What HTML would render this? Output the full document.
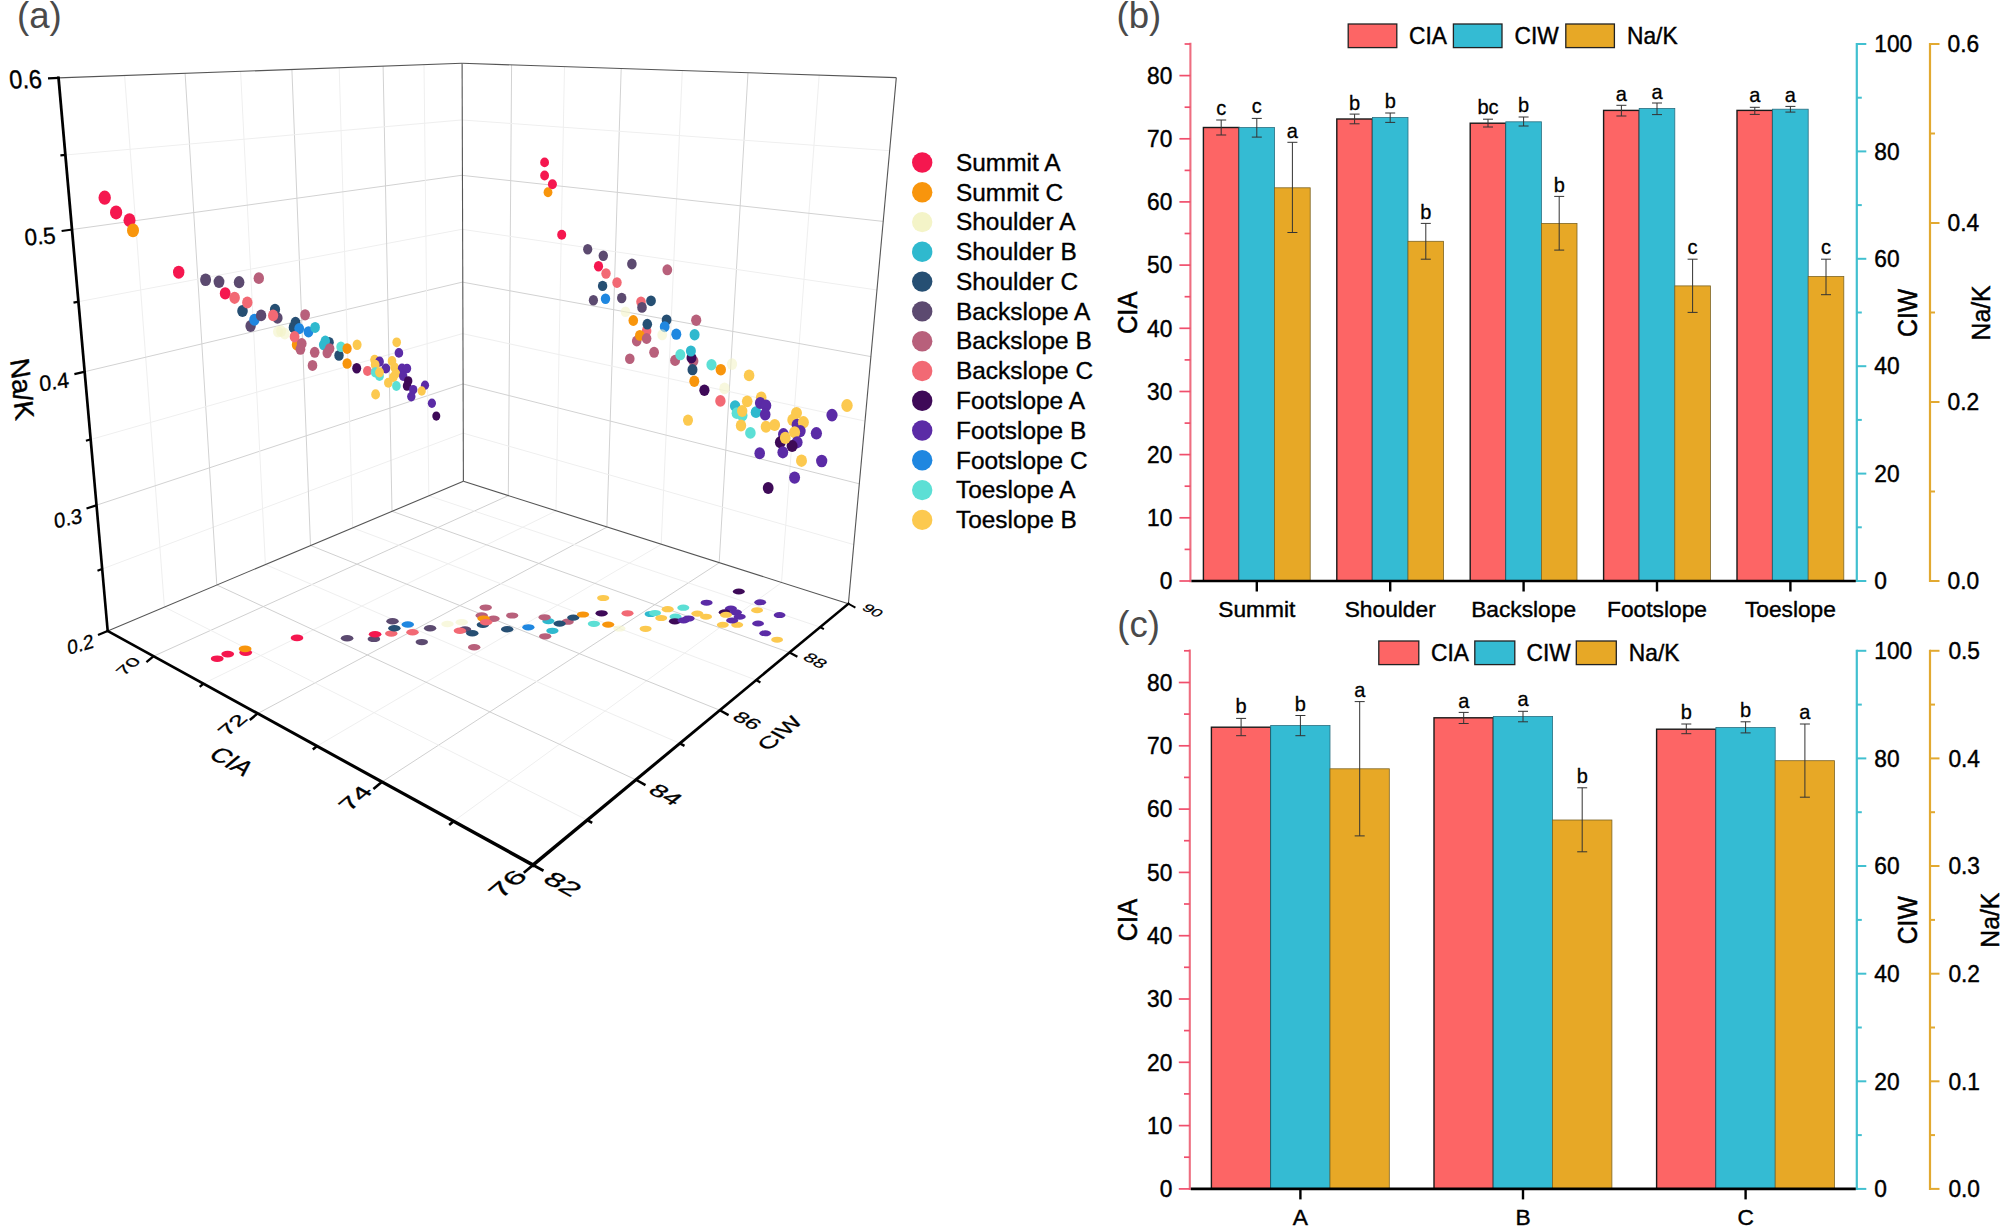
<!DOCTYPE html>
<html lang="en"><head><meta charset="utf-8"><title>Figure</title>
<style>
html,body{margin:0;padding:0;background:#fff;}
body{width:2006px;height:1230px;overflow:hidden;}
svg{display:block;}
</style></head>
<body>
<svg width="2006" height="1230" viewBox="0 0 2006 1230">
<rect width="2006" height="1230" fill="#fff"/>
<g fill="none">
<line x1="164.4" y1="607.1" x2="124.6" y2="75.5" stroke="#efefef" stroke-width="1" />
<line x1="102.2" y1="569.0" x2="463.3" y2="433.1" stroke="#efefef" stroke-width="1" />
<line x1="216.8" y1="585.0" x2="185.1" y2="73.3" stroke="#d2d2d2" stroke-width="1" />
<line x1="96.5" y1="505.2" x2="463.1" y2="383.9" stroke="#d2d2d2" stroke-width="1" />
<line x1="265.4" y1="564.6" x2="240.6" y2="71.3" stroke="#efefef" stroke-width="1" />
<line x1="90.7" y1="439.5" x2="462.9" y2="333.5" stroke="#efefef" stroke-width="1" />
<line x1="310.5" y1="545.6" x2="291.9" y2="69.5" stroke="#d2d2d2" stroke-width="1" />
<line x1="84.6" y1="371.7" x2="462.8" y2="282.0" stroke="#d2d2d2" stroke-width="1" />
<line x1="352.7" y1="527.9" x2="339.2" y2="67.7" stroke="#efefef" stroke-width="1" />
<line x1="78.4" y1="301.7" x2="462.6" y2="229.2" stroke="#efefef" stroke-width="1" />
<line x1="392.0" y1="511.3" x2="383.1" y2="66.2" stroke="#d2d2d2" stroke-width="1" />
<line x1="72.0" y1="229.5" x2="462.4" y2="175.2" stroke="#d2d2d2" stroke-width="1" />
<line x1="428.8" y1="495.8" x2="424.0" y2="64.7" stroke="#efefef" stroke-width="1" />
<line x1="65.4" y1="155.0" x2="462.3" y2="119.9" stroke="#efefef" stroke-width="1" />
<line x1="508.3" y1="495.6" x2="511.6" y2="64.9" stroke="#d2d2d2" stroke-width="1" />
<line x1="556.0" y1="510.7" x2="564.5" y2="66.7" stroke="#efefef" stroke-width="1" />
<line x1="606.9" y1="526.9" x2="621.2" y2="68.5" stroke="#d2d2d2" stroke-width="1" />
<line x1="661.2" y1="544.2" x2="682.3" y2="70.6" stroke="#efefef" stroke-width="1" />
<line x1="719.2" y1="562.6" x2="748.0" y2="72.7" stroke="#d2d2d2" stroke-width="1" />
<line x1="781.5" y1="582.4" x2="819.2" y2="75.1" stroke="#efefef" stroke-width="1" />
<line x1="463.3" y1="433.2" x2="853.8" y2="544.6" stroke="#efefef" stroke-width="1" />
<line x1="463.1" y1="384.0" x2="859.3" y2="483.8" stroke="#d2d2d2" stroke-width="1" />
<line x1="462.9" y1="333.7" x2="865.0" y2="421.1" stroke="#efefef" stroke-width="1" />
<line x1="462.8" y1="282.2" x2="870.9" y2="356.6" stroke="#d2d2d2" stroke-width="1" />
<line x1="462.6" y1="229.4" x2="877.0" y2="290.0" stroke="#efefef" stroke-width="1" />
<line x1="462.4" y1="175.4" x2="883.2" y2="221.4" stroke="#d2d2d2" stroke-width="1" />
<line x1="462.3" y1="120.0" x2="889.6" y2="150.7" stroke="#efefef" stroke-width="1" />
<line x1="153.6" y1="656.2" x2="508.4" y2="495.6" stroke="#d0d0d0" stroke-width="1" />
<line x1="203.5" y1="683.6" x2="556.2" y2="510.8" stroke="#efefef" stroke-width="1" />
<line x1="257.7" y1="713.5" x2="607.1" y2="527.0" stroke="#d0d0d0" stroke-width="1" />
<line x1="317.0" y1="746.1" x2="661.4" y2="544.3" stroke="#efefef" stroke-width="1" />
<line x1="382.0" y1="781.9" x2="719.4" y2="562.7" stroke="#d0d0d0" stroke-width="1" />
<line x1="453.6" y1="821.3" x2="781.6" y2="582.5" stroke="#efefef" stroke-width="1" />
<line x1="164.4" y1="607.0" x2="587.2" y2="820.1" stroke="#efefef" stroke-width="1" />
<line x1="216.9" y1="585.0" x2="635.9" y2="779.8" stroke="#d0d0d0" stroke-width="1" />
<line x1="265.5" y1="564.5" x2="679.9" y2="743.3" stroke="#efefef" stroke-width="1" />
<line x1="310.7" y1="545.5" x2="719.8" y2="710.2" stroke="#d0d0d0" stroke-width="1" />
<line x1="352.7" y1="527.8" x2="756.2" y2="680.1" stroke="#efefef" stroke-width="1" />
<line x1="392.1" y1="511.3" x2="789.5" y2="652.5" stroke="#d0d0d0" stroke-width="1" />
<line x1="428.9" y1="495.8" x2="820.2" y2="627.1" stroke="#efefef" stroke-width="1" />
<line x1="58.5" y1="77.9" x2="462.1" y2="63.3" stroke="#555" stroke-width="1.1" />
<line x1="462.1" y1="63.3" x2="896.3" y2="77.6" stroke="#555" stroke-width="1.1" />
<line x1="463.4" y1="481.3" x2="462.1" y2="63.3" stroke="#555" stroke-width="1.1" />
<line x1="848.4" y1="603.7" x2="896.3" y2="77.6" stroke="#555" stroke-width="1.1" />
<line x1="107.7" y1="630.9" x2="463.4" y2="481.3" stroke="#555" stroke-width="1.1" />
<line x1="463.4" y1="481.3" x2="848.4" y2="603.7" stroke="#555" stroke-width="1.1" />
</g>
<g>
<ellipse cx="217.2" cy="658.7" rx="6.4" ry="3.3" fill="#F5174F"/>
<ellipse cx="227.7" cy="654.1" rx="6.4" ry="3.3" fill="#F5174F"/>
<ellipse cx="245.7" cy="652.6" rx="6.4" ry="3.3" fill="#F5174F"/>
<ellipse cx="245.1" cy="648.9" rx="6.4" ry="3.3" fill="#F8950C"/>
<ellipse cx="297.0" cy="637.9" rx="6.3" ry="3.3" fill="#F5174F"/>
<ellipse cx="347.1" cy="638.2" rx="6.3" ry="3.2" fill="#5C4A70"/>
<ellipse cx="373.9" cy="638.9" rx="6.3" ry="3.2" fill="#5C4A70"/>
<ellipse cx="375.1" cy="634.2" rx="6.3" ry="3.2" fill="#F5174F"/>
<ellipse cx="392.5" cy="621.3" rx="6.2" ry="3.2" fill="#5C4A70"/>
<ellipse cx="391.3" cy="633.6" rx="6.2" ry="3.2" fill="#F26974"/>
<ellipse cx="394.4" cy="628.2" rx="6.2" ry="3.2" fill="#264F73"/>
<ellipse cx="407.8" cy="624.5" rx="6.2" ry="3.2" fill="#1F87E0"/>
<ellipse cx="412.5" cy="632.3" rx="6.2" ry="3.2" fill="#F26974"/>
<ellipse cx="430.1" cy="628.2" rx="6.2" ry="3.2" fill="#5C4A70"/>
<ellipse cx="421.8" cy="642.1" rx="6.2" ry="3.2" fill="#5C4A70"/>
<ellipse cx="447.5" cy="624.0" rx="6.2" ry="3.2" fill="#F4F4C8" fill-opacity="0.6"/>
<ellipse cx="461.7" cy="622.3" rx="6.2" ry="3.2" fill="#F4F4C8" fill-opacity="0.6"/>
<ellipse cx="485.7" cy="607.6" rx="6.2" ry="3.2" fill="#B8607B"/>
<ellipse cx="481.7" cy="615.5" rx="6.2" ry="3.2" fill="#B8607B"/>
<ellipse cx="493.5" cy="618.8" rx="6.2" ry="3.2" fill="#B8607B"/>
<ellipse cx="482.9" cy="624.8" rx="6.2" ry="3.2" fill="#264F73"/>
<ellipse cx="483.6" cy="618.6" rx="6.2" ry="3.2" fill="#F8950C"/>
<ellipse cx="486.0" cy="622.3" rx="6.2" ry="3.2" fill="#F26974"/>
<ellipse cx="465.0" cy="629.4" rx="6.2" ry="3.2" fill="#5C4A70"/>
<ellipse cx="459.9" cy="630.8" rx="6.2" ry="3.2" fill="#F26974"/>
<ellipse cx="472.3" cy="633.3" rx="6.2" ry="3.2" fill="#264F73"/>
<ellipse cx="474.2" cy="647.2" rx="6.2" ry="3.2" fill="#B8607B"/>
<ellipse cx="512.2" cy="615.5" rx="6.1" ry="3.1" fill="#B8607B"/>
<ellipse cx="507.2" cy="629.2" rx="6.2" ry="3.2" fill="#264F73"/>
<ellipse cx="528.4" cy="627.3" rx="6.1" ry="3.1" fill="#1F87E0"/>
<ellipse cx="548.4" cy="621.1" rx="6.1" ry="3.1" fill="#2FB9CE"/>
<ellipse cx="544.6" cy="617.3" rx="6.1" ry="3.1" fill="#B8607B"/>
<ellipse cx="567.7" cy="621.7" rx="6.1" ry="3.1" fill="#B8607B"/>
<ellipse cx="559.6" cy="623.6" rx="6.1" ry="3.1" fill="#264F73"/>
<ellipse cx="573.3" cy="617.6" rx="6.1" ry="3.1" fill="#264F73"/>
<ellipse cx="552.4" cy="630.8" rx="6.1" ry="3.1" fill="#2FB9CE"/>
<ellipse cx="545.2" cy="636.3" rx="6.1" ry="3.1" fill="#B8607B"/>
<ellipse cx="583.0" cy="614.5" rx="6.1" ry="3.1" fill="#F8950C"/>
<ellipse cx="601.6" cy="613.3" rx="6.1" ry="3.1" fill="#3E0A58"/>
<ellipse cx="603.2" cy="598.0" rx="6.1" ry="3.1" fill="#FCC94F"/>
<ellipse cx="593.9" cy="623.8" rx="6.1" ry="3.1" fill="#5CDFD5"/>
<ellipse cx="608.2" cy="624.6" rx="6.1" ry="3.1" fill="#F8950C"/>
<ellipse cx="619.4" cy="628.5" rx="6.1" ry="3.1" fill="#F4F4C8" fill-opacity="0.6"/>
<ellipse cx="627.5" cy="613.3" rx="6.0" ry="3.1" fill="#F26974"/>
<ellipse cx="645.6" cy="628.8" rx="6.0" ry="3.1" fill="#FCC94F"/>
<ellipse cx="650.6" cy="614.0" rx="6.0" ry="3.1" fill="#2FB9CE"/>
<ellipse cx="655.0" cy="613.0" rx="6.0" ry="3.1" fill="#5CDFD5"/>
<ellipse cx="661.2" cy="618.0" rx="6.0" ry="3.1" fill="#FCC94F"/>
<ellipse cx="667.7" cy="609.2" rx="6.0" ry="3.1" fill="#FCC94F"/>
<ellipse cx="683.3" cy="607.7" rx="6.0" ry="3.1" fill="#5CDFD5"/>
<ellipse cx="675.5" cy="616.7" rx="6.0" ry="3.1" fill="#5CDFD5"/>
<ellipse cx="674.9" cy="621.3" rx="6.0" ry="3.1" fill="#3E0A58"/>
<ellipse cx="683.6" cy="620.4" rx="6.0" ry="3.1" fill="#5B2BA6"/>
<ellipse cx="688.6" cy="618.5" rx="6.0" ry="3.1" fill="#5B2BA6"/>
<ellipse cx="697.3" cy="613.6" rx="6.0" ry="3.1" fill="#FCC94F"/>
<ellipse cx="706.0" cy="616.7" rx="6.0" ry="3.0" fill="#FCC94F"/>
<ellipse cx="706.6" cy="602.7" rx="6.0" ry="3.0" fill="#5B2BA6"/>
<ellipse cx="738.8" cy="591.5" rx="6.0" ry="3.0" fill="#3E0A58"/>
<ellipse cx="722.8" cy="624.8" rx="6.0" ry="3.0" fill="#FCC94F"/>
<ellipse cx="737.2" cy="624.8" rx="6.0" ry="3.0" fill="#FCC94F"/>
<ellipse cx="730.9" cy="608.6" rx="6.0" ry="3.0" fill="#5B2BA6"/>
<ellipse cx="724.7" cy="612.3" rx="6.0" ry="3.0" fill="#3E0A58"/>
<ellipse cx="735.9" cy="612.3" rx="6.0" ry="3.0" fill="#5B2BA6"/>
<ellipse cx="726.0" cy="614.8" rx="6.0" ry="3.0" fill="#FCC94F"/>
<ellipse cx="739.7" cy="616.7" rx="6.0" ry="3.0" fill="#5B2BA6"/>
<ellipse cx="732.2" cy="620.4" rx="6.0" ry="3.0" fill="#5B2BA6"/>
<ellipse cx="760.2" cy="602.3" rx="5.9" ry="3.0" fill="#5B2BA6"/>
<ellipse cx="757.1" cy="610.2" rx="5.9" ry="3.0" fill="#FCC94F"/>
<ellipse cx="779.6" cy="615.1" rx="5.9" ry="3.0" fill="#5B2BA6"/>
<ellipse cx="758.1" cy="623.5" rx="5.9" ry="3.0" fill="#5B2BA6"/>
<ellipse cx="765.2" cy="633.3" rx="5.9" ry="3.0" fill="#5B2BA6"/>
<ellipse cx="777.1" cy="639.7" rx="5.9" ry="3.0" fill="#FCC94F"/>
<ellipse cx="104.7" cy="197.7" rx="6.2" ry="7.1" fill="#F5174F"/>
<ellipse cx="116.1" cy="212.4" rx="6.1" ry="7.0" fill="#F5174F"/>
<ellipse cx="129.5" cy="220.2" rx="6.0" ry="6.9" fill="#F5174F"/>
<ellipse cx="133.0" cy="230.4" rx="6.0" ry="6.9" fill="#F8950C"/>
<ellipse cx="178.7" cy="272.2" rx="5.7" ry="6.5" fill="#F5174F"/>
<ellipse cx="205.6" cy="279.7" rx="5.5" ry="6.3" fill="#5C4A70"/>
<ellipse cx="219.0" cy="281.8" rx="5.4" ry="6.2" fill="#5C4A70"/>
<ellipse cx="239.1" cy="282.2" rx="5.3" ry="6.1" fill="#5C4A70"/>
<ellipse cx="258.8" cy="278.2" rx="5.2" ry="5.9" fill="#B8607B"/>
<ellipse cx="225.2" cy="293.4" rx="5.4" ry="6.2" fill="#F5174F"/>
<ellipse cx="234.6" cy="297.8" rx="5.3" ry="6.1" fill="#F26974"/>
<ellipse cx="242.5" cy="311.0" rx="5.3" ry="6.1" fill="#264F73"/>
<ellipse cx="247.3" cy="302.6" rx="5.2" ry="6.0" fill="#F26974"/>
<ellipse cx="250.6" cy="326.1" rx="5.2" ry="6.0" fill="#5C4A70"/>
<ellipse cx="254.4" cy="319.8" rx="5.2" ry="6.0" fill="#1F87E0"/>
<ellipse cx="261.1" cy="315.4" rx="5.2" ry="5.9" fill="#5C4A70"/>
<ellipse cx="275.0" cy="309.5" rx="5.1" ry="5.8" fill="#264F73"/>
<ellipse cx="277.5" cy="318.0" rx="5.1" ry="5.8" fill="#5C4A70"/>
<ellipse cx="273.1" cy="315.4" rx="5.1" ry="5.8" fill="#F26974"/>
<ellipse cx="305.1" cy="314.8" rx="4.9" ry="5.6" fill="#B8607B"/>
<ellipse cx="278.0" cy="331.7" rx="5.0" ry="5.8" fill="#F4F4C8" fill-opacity="0.6"/>
<ellipse cx="281.1" cy="331.1" rx="5.0" ry="5.8" fill="#F4F4C8" fill-opacity="0.6"/>
<ellipse cx="284.8" cy="333.6" rx="5.0" ry="5.8" fill="#F4F4C8" fill-opacity="0.6"/>
<ellipse cx="293.6" cy="327.4" rx="4.9" ry="5.7" fill="#264F73"/>
<ellipse cx="295.5" cy="322.5" rx="4.9" ry="5.7" fill="#264F73"/>
<ellipse cx="299.2" cy="328.6" rx="4.9" ry="5.6" fill="#1F87E0"/>
<ellipse cx="308.5" cy="331.8" rx="4.9" ry="5.6" fill="#1F87E0"/>
<ellipse cx="315.1" cy="327.4" rx="4.8" ry="5.5" fill="#2FB9CE"/>
<ellipse cx="296.7" cy="344.8" rx="4.9" ry="5.7" fill="#F8950C"/>
<ellipse cx="294.6" cy="336.7" rx="4.9" ry="5.7" fill="#F26974"/>
<ellipse cx="301.7" cy="343.6" rx="4.9" ry="5.6" fill="#B8607B"/>
<ellipse cx="300.4" cy="349.2" rx="4.9" ry="5.6" fill="#B8607B"/>
<ellipse cx="314.7" cy="352.3" rx="4.8" ry="5.5" fill="#B8607B"/>
<ellipse cx="312.5" cy="365.4" rx="4.8" ry="5.5" fill="#B8607B"/>
<ellipse cx="329.1" cy="342.3" rx="4.7" ry="5.4" fill="#264F73"/>
<ellipse cx="325.3" cy="341.1" rx="4.7" ry="5.5" fill="#2FB9CE"/>
<ellipse cx="323.7" cy="344.8" rx="4.8" ry="5.5" fill="#2FB9CE"/>
<ellipse cx="329.7" cy="348.6" rx="4.7" ry="5.4" fill="#B8607B"/>
<ellipse cx="327.2" cy="352.9" rx="4.7" ry="5.4" fill="#B8607B"/>
<ellipse cx="339.0" cy="355.4" rx="4.7" ry="5.4" fill="#264F73"/>
<ellipse cx="340.9" cy="346.7" rx="4.6" ry="5.3" fill="#5CDFD5"/>
<ellipse cx="347.1" cy="348.6" rx="4.6" ry="5.3" fill="#F8950C"/>
<ellipse cx="347.1" cy="363.5" rx="4.6" ry="5.3" fill="#F8950C"/>
<ellipse cx="357.1" cy="344.8" rx="4.5" ry="5.2" fill="#FCC94F"/>
<ellipse cx="356.7" cy="368.3" rx="4.5" ry="5.2" fill="#3E0A58"/>
<ellipse cx="367.5" cy="371.0" rx="4.5" ry="5.1" fill="#F26974"/>
<ellipse cx="374.6" cy="359.8" rx="4.4" ry="5.1" fill="#FCC94F"/>
<ellipse cx="379.5" cy="361.7" rx="4.4" ry="5.1" fill="#5B2BA6"/>
<ellipse cx="375.2" cy="364.8" rx="4.4" ry="5.1" fill="#FCC94F"/>
<ellipse cx="385.8" cy="368.5" rx="4.4" ry="5.0" fill="#5B2BA6"/>
<ellipse cx="375.2" cy="372.3" rx="4.4" ry="5.1" fill="#5CDFD5"/>
<ellipse cx="379.5" cy="376.0" rx="4.4" ry="5.1" fill="#5CDFD5"/>
<ellipse cx="379.5" cy="372.3" rx="4.4" ry="5.1" fill="#FCC94F"/>
<ellipse cx="396.7" cy="342.3" rx="4.3" ry="4.9" fill="#FCC94F"/>
<ellipse cx="398.9" cy="352.9" rx="4.3" ry="4.9" fill="#5B2BA6"/>
<ellipse cx="392.0" cy="361.0" rx="4.3" ry="5.0" fill="#FCC94F"/>
<ellipse cx="394.5" cy="367.3" rx="4.3" ry="4.9" fill="#FCC94F"/>
<ellipse cx="402.0" cy="368.5" rx="4.2" ry="4.9" fill="#5B2BA6"/>
<ellipse cx="407.0" cy="368.5" rx="4.2" ry="4.8" fill="#5B2BA6"/>
<ellipse cx="395.8" cy="373.5" rx="4.3" ry="4.9" fill="#FCC94F"/>
<ellipse cx="393.3" cy="377.2" rx="4.3" ry="4.9" fill="#FCC94F"/>
<ellipse cx="388.3" cy="382.8" rx="4.3" ry="5.0" fill="#FCC94F"/>
<ellipse cx="396.4" cy="386.0" rx="4.3" ry="4.9" fill="#5CDFD5"/>
<ellipse cx="403.2" cy="376.0" rx="4.2" ry="4.9" fill="#5B2BA6"/>
<ellipse cx="408.2" cy="381.0" rx="4.2" ry="4.8" fill="#3E0A58"/>
<ellipse cx="407.0" cy="386.0" rx="4.2" ry="4.8" fill="#3E0A58"/>
<ellipse cx="413.2" cy="389.7" rx="4.2" ry="4.8" fill="#5B2BA6"/>
<ellipse cx="411.3" cy="396.6" rx="4.2" ry="4.8" fill="#5B2BA6"/>
<ellipse cx="375.6" cy="394.4" rx="4.4" ry="5.1" fill="#FCC94F"/>
<ellipse cx="425.0" cy="385.3" rx="4.1" ry="4.7" fill="#5B2BA6"/>
<ellipse cx="421.7" cy="391.0" rx="4.1" ry="4.7" fill="#FCC94F"/>
<ellipse cx="431.9" cy="403.2" rx="4.1" ry="4.7" fill="#5B2BA6"/>
<ellipse cx="436.3" cy="416.1" rx="4.0" ry="4.6" fill="#3E0A58"/>
<ellipse cx="544.6" cy="162.4" rx="4.4" ry="4.9" fill="#F5174F"/>
<ellipse cx="544.6" cy="175.5" rx="4.4" ry="4.9" fill="#F5174F"/>
<ellipse cx="548.0" cy="192.3" rx="4.4" ry="5.0" fill="#F8950C"/>
<ellipse cx="552.4" cy="184.2" rx="4.5" ry="5.0" fill="#F5174F"/>
<ellipse cx="561.7" cy="234.7" rx="4.5" ry="5.0" fill="#F5174F"/>
<ellipse cx="587.7" cy="249.3" rx="4.6" ry="5.2" fill="#5C4A70"/>
<ellipse cx="603.3" cy="255.7" rx="4.7" ry="5.2" fill="#5C4A70"/>
<ellipse cx="598.5" cy="266.2" rx="4.6" ry="5.2" fill="#F5174F"/>
<ellipse cx="606.0" cy="273.5" rx="4.7" ry="5.2" fill="#F26974"/>
<ellipse cx="631.9" cy="264.0" rx="4.8" ry="5.4" fill="#5C4A70"/>
<ellipse cx="667.3" cy="269.8" rx="4.9" ry="5.5" fill="#B8607B"/>
<ellipse cx="617.0" cy="282.6" rx="4.7" ry="5.3" fill="#F26974"/>
<ellipse cx="602.6" cy="285.9" rx="4.7" ry="5.2" fill="#264F73"/>
<ellipse cx="593.4" cy="300.3" rx="4.6" ry="5.2" fill="#5C4A70"/>
<ellipse cx="605.5" cy="298.7" rx="4.7" ry="5.2" fill="#1F87E0"/>
<ellipse cx="621.7" cy="298.0" rx="4.7" ry="5.3" fill="#5C4A70"/>
<ellipse cx="641.0" cy="301.8" rx="4.8" ry="5.4" fill="#F26974"/>
<ellipse cx="642.0" cy="307.4" rx="4.8" ry="5.4" fill="#5C4A70"/>
<ellipse cx="651.0" cy="300.8" rx="4.9" ry="5.4" fill="#264F73"/>
<ellipse cx="625.5" cy="311.7" rx="4.8" ry="5.3" fill="#F4F4C8" fill-opacity="0.6"/>
<ellipse cx="633.3" cy="320.5" rx="4.8" ry="5.4" fill="#F8950C"/>
<ellipse cx="646.6" cy="331.1" rx="4.8" ry="5.4" fill="#F26974"/>
<ellipse cx="647.3" cy="324.2" rx="4.8" ry="5.4" fill="#264F73"/>
<ellipse cx="666.6" cy="319.9" rx="4.9" ry="5.5" fill="#264F73"/>
<ellipse cx="664.7" cy="326.7" rx="4.9" ry="5.5" fill="#1F87E0"/>
<ellipse cx="676.3" cy="334.2" rx="5.0" ry="5.6" fill="#1F87E0"/>
<ellipse cx="696.2" cy="320.2" rx="5.1" ry="5.7" fill="#B8607B"/>
<ellipse cx="694.6" cy="334.8" rx="5.0" ry="5.7" fill="#2FB9CE"/>
<ellipse cx="636.7" cy="341.0" rx="4.8" ry="5.4" fill="#B8607B"/>
<ellipse cx="639.8" cy="335.4" rx="4.8" ry="5.4" fill="#F8950C"/>
<ellipse cx="646.6" cy="338.5" rx="4.8" ry="5.4" fill="#B8607B"/>
<ellipse cx="662.2" cy="334.8" rx="4.9" ry="5.5" fill="#F4F4C8" fill-opacity="0.6"/>
<ellipse cx="654.1" cy="352.3" rx="4.9" ry="5.5" fill="#B8607B"/>
<ellipse cx="629.8" cy="358.7" rx="4.8" ry="5.3" fill="#B8607B"/>
<ellipse cx="675.1" cy="360.4" rx="5.0" ry="5.6" fill="#B8607B"/>
<ellipse cx="680.3" cy="354.7" rx="5.0" ry="5.6" fill="#5CDFD5"/>
<ellipse cx="693.4" cy="361.0" rx="5.0" ry="5.6" fill="#B8607B"/>
<ellipse cx="691.5" cy="357.9" rx="5.0" ry="5.6" fill="#3E0A58"/>
<ellipse cx="690.9" cy="351.0" rx="5.0" ry="5.6" fill="#2FB9CE"/>
<ellipse cx="692.5" cy="369.7" rx="5.0" ry="5.6" fill="#264F73"/>
<ellipse cx="711.5" cy="364.7" rx="5.1" ry="5.7" fill="#5CDFD5"/>
<ellipse cx="720.8" cy="369.7" rx="5.2" ry="5.8" fill="#F8950C"/>
<ellipse cx="732.0" cy="364.1" rx="5.2" ry="5.8" fill="#F4F4C8" fill-opacity="0.6"/>
<ellipse cx="749.1" cy="375.4" rx="5.3" ry="5.9" fill="#FCC94F"/>
<ellipse cx="694.3" cy="381.3" rx="5.0" ry="5.7" fill="#F8950C"/>
<ellipse cx="704.4" cy="390.3" rx="5.1" ry="5.7" fill="#3E0A58"/>
<ellipse cx="724.5" cy="388.4" rx="5.2" ry="5.8" fill="#F4F4C8" fill-opacity="0.6"/>
<ellipse cx="720.4" cy="400.9" rx="5.2" ry="5.8" fill="#F26974"/>
<ellipse cx="688.0" cy="420.2" rx="5.0" ry="5.6" fill="#FCC94F"/>
<ellipse cx="735.1" cy="406.0" rx="5.2" ry="5.8" fill="#2FB9CE"/>
<ellipse cx="736.8" cy="413.2" rx="5.2" ry="5.9" fill="#5CDFD5"/>
<ellipse cx="742.3" cy="415.5" rx="5.2" ry="5.9" fill="#5CDFD5"/>
<ellipse cx="747.2" cy="401.3" rx="5.3" ry="5.9" fill="#FCC94F"/>
<ellipse cx="742.2" cy="411.0" rx="5.2" ry="5.9" fill="#FCC94F"/>
<ellipse cx="756.0" cy="412.2" rx="5.3" ry="5.9" fill="#2FB9CE"/>
<ellipse cx="761.2" cy="397.5" rx="5.3" ry="6.0" fill="#FCC94F"/>
<ellipse cx="760.2" cy="402.9" rx="5.3" ry="6.0" fill="#5B2BA6"/>
<ellipse cx="766.0" cy="405.6" rx="5.3" ry="6.0" fill="#5B2BA6"/>
<ellipse cx="765.2" cy="414.4" rx="5.3" ry="6.0" fill="#5B2BA6"/>
<ellipse cx="741.0" cy="425.5" rx="5.2" ry="5.9" fill="#FCC94F"/>
<ellipse cx="750.4" cy="432.9" rx="5.3" ry="5.9" fill="#5CDFD5"/>
<ellipse cx="766.0" cy="426.7" rx="5.3" ry="6.0" fill="#FCC94F"/>
<ellipse cx="774.7" cy="425.0" rx="5.4" ry="6.0" fill="#FCC94F"/>
<ellipse cx="796.5" cy="413.0" rx="5.5" ry="6.1" fill="#FCC94F"/>
<ellipse cx="792.8" cy="419.9" rx="5.5" ry="6.1" fill="#FCC94F"/>
<ellipse cx="797.1" cy="424.8" rx="5.5" ry="6.1" fill="#5B2BA6"/>
<ellipse cx="803.4" cy="422.3" rx="5.5" ry="6.2" fill="#FCC94F"/>
<ellipse cx="800.2" cy="431.1" rx="5.5" ry="6.2" fill="#5B2BA6"/>
<ellipse cx="794.6" cy="432.3" rx="5.5" ry="6.1" fill="#FCC94F"/>
<ellipse cx="783.4" cy="434.2" rx="5.4" ry="6.1" fill="#5B2BA6"/>
<ellipse cx="780.3" cy="442.3" rx="5.4" ry="6.1" fill="#3E0A58"/>
<ellipse cx="797.1" cy="442.3" rx="5.5" ry="6.1" fill="#5B2BA6"/>
<ellipse cx="792.1" cy="446.0" rx="5.5" ry="6.1" fill="#3E0A58"/>
<ellipse cx="785.3" cy="437.9" rx="5.4" ry="6.1" fill="#FCC94F"/>
<ellipse cx="782.8" cy="452.3" rx="5.4" ry="6.1" fill="#5B2BA6"/>
<ellipse cx="759.7" cy="453.3" rx="5.3" ry="6.0" fill="#5B2BA6"/>
<ellipse cx="816.4" cy="433.3" rx="5.6" ry="6.2" fill="#5B2BA6"/>
<ellipse cx="832.0" cy="415.1" rx="5.6" ry="6.3" fill="#5B2BA6"/>
<ellipse cx="847.0" cy="405.5" rx="5.7" ry="6.4" fill="#FCC94F"/>
<ellipse cx="801.5" cy="460.7" rx="5.5" ry="6.2" fill="#FCC94F"/>
<ellipse cx="821.7" cy="461.0" rx="5.6" ry="6.3" fill="#5B2BA6"/>
<ellipse cx="794.6" cy="477.6" rx="5.5" ry="6.1" fill="#5B2BA6"/>
<ellipse cx="768.2" cy="488.1" rx="5.4" ry="6.0" fill="#3E0A58"/>
</g>
<g stroke="#000" fill="none" stroke-linecap="butt">
<polygon fill="#000" stroke="none" points="109.1,632.1 59.8,76.4 57.0,76.6 106.5,632.3"/>
<polygon fill="#000" stroke="none" points="106.0,631.4 533.7,867.4 535.4,864.3 107.2,629.2"/>
<polygon fill="#000" stroke="none" points="532.8,867.5 850.0,603.9 848.6,602.1 530.5,864.8"/>
<line x1="108.2" y1="630.7" x2="98.0" y2="635.0" stroke="#000" stroke-width="2.2" />
<line x1="102.7" y1="568.8" x2="97.5" y2="570.8" stroke="#000" stroke-width="2.2" />
<line x1="97.0" y1="505.1" x2="86.5" y2="508.5" stroke="#000" stroke-width="2.2" />
<line x1="91.1" y1="439.3" x2="85.9" y2="440.8" stroke="#000" stroke-width="2.2" />
<line x1="85.1" y1="371.6" x2="74.4" y2="374.1" stroke="#000" stroke-width="2.2" />
<line x1="78.9" y1="301.6" x2="73.5" y2="302.7" stroke="#000" stroke-width="2.2" />
<line x1="72.5" y1="229.5" x2="61.6" y2="231.0" stroke="#000" stroke-width="2.2" />
<line x1="65.9" y1="154.9" x2="60.4" y2="155.4" stroke="#000" stroke-width="2.2" />
<line x1="59.0" y1="77.9" x2="48.0" y2="78.3" stroke="#000" stroke-width="2.2" />
<line x1="154.0" y1="655.9" x2="146.4" y2="662.2" stroke="#000" stroke-width="2.271428571428572" />
<line x1="203.8" y1="683.3" x2="199.7" y2="686.8" stroke="#000" stroke-width="2.342857142857143" />
<line x1="258.1" y1="713.1" x2="249.8" y2="720.0" stroke="#000" stroke-width="2.4142857142857146" />
<line x1="317.4" y1="745.8" x2="312.8" y2="749.5" stroke="#000" stroke-width="2.4857142857142858" />
<line x1="382.4" y1="781.6" x2="373.4" y2="789.0" stroke="#000" stroke-width="2.5571428571428574" />
<line x1="454.0" y1="821.0" x2="449.2" y2="825.0" stroke="#000" stroke-width="2.6285714285714286" />
<line x1="533.4" y1="864.7" x2="523.8" y2="872.7" stroke="#000" stroke-width="2.7" />
<line x1="532.6" y1="864.8" x2="543.5" y2="870.8" stroke="#000" stroke-width="2.7" />
<line x1="586.8" y1="819.9" x2="592.2" y2="822.9" stroke="#000" stroke-width="2.6125" />
<line x1="635.5" y1="779.5" x2="645.5" y2="785.1" stroke="#000" stroke-width="2.525" />
<line x1="679.4" y1="743.1" x2="684.5" y2="745.9" stroke="#000" stroke-width="2.4375" />
<line x1="719.4" y1="710.0" x2="728.6" y2="715.1" stroke="#000" stroke-width="2.35" />
<line x1="755.8" y1="679.8" x2="760.4" y2="682.4" stroke="#000" stroke-width="2.2625" />
<line x1="789.1" y1="652.2" x2="797.4" y2="656.8" stroke="#000" stroke-width="2.175" />
<line x1="819.7" y1="626.9" x2="823.9" y2="629.1" stroke="#000" stroke-width="2.0875" />
<line x1="848.0" y1="603.5" x2="855.4" y2="607.6" stroke="#000" stroke-width="2.0" />
</g>
<g font-family='"Liberation Sans", Arial, Helvetica, sans-serif' stroke="#000" stroke-width="0.3">
<text transform="matrix(1.1748 -0.0205 0.1152 1.2949 25.5 79.0)" x="0" y="7.16" text-anchor="middle" font-size="20.0" fill="#000">0.6</text>
<text transform="matrix(1.1223 -0.0785 0.1041 1.1704 40.0 236.0)" x="0" y="7.16" text-anchor="middle" font-size="20.0" fill="#000">0.5</text>
<text transform="matrix(1.0645 -0.1496 0.0975 1.0957 54.0 381.5)" x="0" y="7.16" text-anchor="middle" font-size="20.0" fill="#000">0.4</text>
<text transform="matrix(1.0026 -0.2131 0.0931 1.0459 68.0 518.0)" x="0" y="7.16" text-anchor="middle" font-size="20.0" fill="#000">0.3</text>
<text transform="matrix(0.9372 -0.2687 0.0886 0.9961 80.5 644.0)" x="0" y="7.16" text-anchor="middle" font-size="20.0" fill="#000">0.2</text>
<text transform="matrix(0.1224 1.3695 -1.3303 0.2296 22.5 389.0)" x="0" y="7.16" text-anchor="middle" font-size="20.0" fill="#000">Na/K</text>
<text transform="matrix(0.8086 -0.6699 0.6789 0.3737 128.0 666.2)" x="0" y="7.16" text-anchor="middle" font-size="20.0" fill="#000">70</text>
<text transform="matrix(0.9626 -0.7975 0.8104 0.4460 232.3 724.8)" x="0" y="7.16" text-anchor="middle" font-size="20.0" fill="#000">72</text>
<text transform="matrix(1.0973 -0.9091 0.9418 0.5184 355.1 798.0)" x="0" y="7.16" text-anchor="middle" font-size="20.0" fill="#000">74</text>
<text transform="matrix(1.2321 -1.0208 1.0732 0.5907 507.2 883.6)" x="0" y="7.16" text-anchor="middle" font-size="20.0" fill="#000">76</text>
<text transform="matrix(1.0732 0.5907 -0.9626 0.7975 232.0 761.0)" x="0" y="7.16" text-anchor="middle" font-size="20.0" fill="#000">CIA</text>
<text transform="matrix(1.3579 0.7474 -0.9048 0.7496 563.0 884.0)" x="0" y="7.16" text-anchor="middle" font-size="20.0" fill="#000">82</text>
<text transform="matrix(1.1827 0.6510 -0.8086 0.6699 666.0 794.5)" x="0" y="7.16" text-anchor="middle" font-size="20.0" fill="#000">84</text>
<text transform="matrix(1.0075 0.5545 -0.6931 0.5742 747.5 720.5)" x="0" y="7.16" text-anchor="middle" font-size="20.0" fill="#000">86</text>
<text transform="matrix(0.8542 0.4702 -0.5968 0.4944 815.5 660.5)" x="0" y="7.16" text-anchor="middle" font-size="20.0" fill="#000">88</text>
<text transform="matrix(0.7446 0.4099 -0.5198 0.4306 873.0 610.5)" x="0" y="7.16" text-anchor="middle" font-size="20.0" fill="#000">90</text>
<text transform="matrix(0.9241 -0.7656 0.9199 0.5063 779.5 733.0)" x="0" y="7.16" text-anchor="middle" font-size="20.0" fill="#000">CIW</text>
</g>
<g font-family='"Liberation Sans", Arial, Helvetica, sans-serif' font-size="23.6" fill="#000" stroke="#000" stroke-width="0.35">
<circle cx="922.2" cy="162.5" r="10.2" fill="#F5174F" stroke="none"/>
<text transform="translate(956.0 170.7) scale(1.035 1.0)" text-anchor="start" >Summit A</text>
<circle cx="922.2" cy="192.3" r="10.2" fill="#F8950C" stroke="none"/>
<text transform="translate(956.0 200.5) scale(1.035 1.0)" text-anchor="start" >Summit C</text>
<circle cx="922.2" cy="222.1" r="10.2" fill="#F4F4C8" stroke="none"/>
<text transform="translate(956.0 230.3) scale(1.035 1.0)" text-anchor="start" >Shoulder A</text>
<circle cx="922.2" cy="251.8" r="10.2" fill="#2FB9CE" stroke="none"/>
<text transform="translate(956.0 260.0) scale(1.035 1.0)" text-anchor="start" >Shoulder B</text>
<circle cx="922.2" cy="281.6" r="10.2" fill="#264F73" stroke="none"/>
<text transform="translate(956.0 289.8) scale(1.035 1.0)" text-anchor="start" >Shoulder C</text>
<circle cx="922.2" cy="311.4" r="10.2" fill="#5C4A70" stroke="none"/>
<text transform="translate(956.0 319.6) scale(1.035 1.0)" text-anchor="start" >Backslope A</text>
<circle cx="922.2" cy="341.2" r="10.2" fill="#B8607B" stroke="none"/>
<text transform="translate(956.0 349.4) scale(1.035 1.0)" text-anchor="start" >Backslope B</text>
<circle cx="922.2" cy="371.0" r="10.2" fill="#F26974" stroke="none"/>
<text transform="translate(956.0 379.2) scale(1.035 1.0)" text-anchor="start" >Backslope C</text>
<circle cx="922.2" cy="400.7" r="10.2" fill="#3E0A58" stroke="none"/>
<text transform="translate(956.0 408.9) scale(1.035 1.0)" text-anchor="start" >Footslope A</text>
<circle cx="922.2" cy="430.5" r="10.2" fill="#5B2BA6" stroke="none"/>
<text transform="translate(956.0 438.7) scale(1.035 1.0)" text-anchor="start" >Footslope B</text>
<circle cx="922.2" cy="460.3" r="10.2" fill="#1F87E0" stroke="none"/>
<text transform="translate(956.0 468.5) scale(1.035 1.0)" text-anchor="start" >Footslope C</text>
<circle cx="922.2" cy="490.1" r="10.2" fill="#5CDFD5" stroke="none"/>
<text transform="translate(956.0 498.3) scale(1.035 1.0)" text-anchor="start" >Toeslope A</text>
<circle cx="922.2" cy="519.9" r="10.2" fill="#FCC94F" stroke="none"/>
<text transform="translate(956.0 528.1) scale(1.035 1.0)" text-anchor="start" >Toeslope B</text>
</g>
<g font-family='"Liberation Sans", Arial, Helvetica, sans-serif' font-size="36.6" fill="#4a4a4a">
<text x="17.0" y="27.7">(a)</text>
<text x="1116.5" y="27.7">(b)</text>
<text x="1117.3" y="637">(c)</text>
</g>
<g>
<rect x="1203.4" y="127.5" width="35.6" height="453.5" fill="#FD6565" stroke="#1a1a1a" stroke-width="1.4"/>
<rect x="1239.0" y="127.5" width="35.6" height="453.5" fill="#34BBD3" stroke="#2a6f80" stroke-width="0.8"/>
<rect x="1274.6" y="187.8" width="35.6" height="393.2" fill="#E7A826" stroke="#7d6424" stroke-width="0.8"/>
<rect x="1336.8" y="119.0" width="35.6" height="462.0" fill="#FD6565" stroke="#1a1a1a" stroke-width="1.4"/>
<rect x="1372.4" y="117.5" width="35.6" height="463.5" fill="#34BBD3" stroke="#2a6f80" stroke-width="0.8"/>
<rect x="1408.0" y="241.3" width="35.6" height="339.7" fill="#E7A826" stroke="#7d6424" stroke-width="0.8"/>
<rect x="1470.2" y="123.2" width="35.6" height="457.8" fill="#FD6565" stroke="#1a1a1a" stroke-width="1.4"/>
<rect x="1505.8" y="121.8" width="35.6" height="459.2" fill="#34BBD3" stroke="#2a6f80" stroke-width="0.8"/>
<rect x="1541.4" y="223.4" width="35.6" height="357.6" fill="#E7A826" stroke="#7d6424" stroke-width="0.8"/>
<rect x="1603.6" y="110.4" width="35.6" height="470.6" fill="#FD6565" stroke="#1a1a1a" stroke-width="1.4"/>
<rect x="1639.2" y="108.4" width="35.6" height="472.6" fill="#34BBD3" stroke="#2a6f80" stroke-width="0.8"/>
<rect x="1674.8" y="285.9" width="35.6" height="295.1" fill="#E7A826" stroke="#7d6424" stroke-width="0.8"/>
<rect x="1737.0" y="110.4" width="35.6" height="470.6" fill="#FD6565" stroke="#1a1a1a" stroke-width="1.4"/>
<rect x="1772.6" y="109.2" width="35.6" height="471.8" fill="#34BBD3" stroke="#2a6f80" stroke-width="0.8"/>
<rect x="1808.2" y="276.5" width="35.6" height="304.5" fill="#E7A826" stroke="#7d6424" stroke-width="0.8"/>
<g stroke="#333" stroke-width="1" fill="none">
<path d="M1221.2 120.0V135.0M1216.2 120.0h10M1216.2 135.0h10"/>
<path d="M1256.8 118.4V137.1M1251.8 118.4h10M1251.8 137.1h10"/>
<path d="M1292.4 142.3V232.5M1287.4 142.3h10M1287.4 232.5h10"/>
<path d="M1354.6 114.1V123.8M1349.6 114.1h10M1349.6 123.8h10"/>
<path d="M1390.2 113.0V122.4M1385.2 113.0h10M1385.2 122.4h10"/>
<path d="M1425.8 223.4V259.2M1420.8 223.4h10M1420.8 259.2h10"/>
<path d="M1488.0 119.2V127.0M1483.0 119.2h10M1483.0 127.0h10"/>
<path d="M1523.6 117.0V126.0M1518.6 117.0h10M1518.6 126.0h10"/>
<path d="M1559.2 196.4V250.1M1554.2 196.4h10M1554.2 250.1h10"/>
<path d="M1621.4 105.3V116.0M1616.4 105.3h10M1616.4 116.0h10"/>
<path d="M1657.0 103.0V114.6M1652.0 103.0h10M1652.0 114.6h10"/>
<path d="M1692.6 259.2V312.4M1687.6 259.2h10M1687.6 312.4h10"/>
<path d="M1754.8 107.3V114.4M1749.8 107.3h10M1749.8 114.4h10"/>
<path d="M1790.4 106.4V112.1M1785.4 106.4h10M1785.4 112.1h10"/>
<path d="M1826.0 259.2V294.7M1821.0 259.2h10M1821.0 294.7h10"/>
</g>
<g font-family='"Liberation Sans", Arial, Helvetica, sans-serif' font-size="20" fill="#000" stroke="#000" stroke-width="0.3" text-anchor="middle">
<text transform="translate(1221.2 115.3) scale(1.0 1.04)" text-anchor="middle" >c</text>
<text transform="translate(1256.8 113.4) scale(1.0 1.04)" text-anchor="middle" >c</text>
<text transform="translate(1292.4 138.0) scale(1.0 1.04)" text-anchor="middle" >a</text>
<text transform="translate(1354.6 109.6) scale(1.0 1.04)" text-anchor="middle" >b</text>
<text transform="translate(1390.2 108.1) scale(1.0 1.04)" text-anchor="middle" >b</text>
<text transform="translate(1425.8 219.0) scale(1.0 1.04)" text-anchor="middle" >b</text>
<text transform="translate(1488.0 114.4) scale(1.0 1.04)" text-anchor="middle" >bc</text>
<text transform="translate(1523.6 112.4) scale(1.0 1.04)" text-anchor="middle" >b</text>
<text transform="translate(1559.2 191.5) scale(1.0 1.04)" text-anchor="middle" >b</text>
<text transform="translate(1621.4 101.0) scale(1.0 1.04)" text-anchor="middle" >a</text>
<text transform="translate(1657.0 98.7) scale(1.0 1.04)" text-anchor="middle" >a</text>
<text transform="translate(1692.6 254.0) scale(1.0 1.04)" text-anchor="middle" >c</text>
<text transform="translate(1754.8 102.4) scale(1.0 1.04)" text-anchor="middle" >a</text>
<text transform="translate(1790.4 101.6) scale(1.0 1.04)" text-anchor="middle" >a</text>
<text transform="translate(1826.0 254.0) scale(1.0 1.04)" text-anchor="middle" >c</text>
</g>
<line x1="1190.4" y1="42.8" x2="1190.4" y2="582.2" stroke="#EE6E80" stroke-width="2.1"/>
<line x1="1179.4" y1="581.0" x2="1190.4" y2="581.0" stroke="#F04E6C" stroke-width="1.7"/>
<line x1="1184.6" y1="549.4" x2="1190.4" y2="549.4" stroke="#F04E6C" stroke-width="1.7"/>
<line x1="1179.4" y1="517.8" x2="1190.4" y2="517.8" stroke="#F04E6C" stroke-width="1.7"/>
<line x1="1184.6" y1="486.2" x2="1190.4" y2="486.2" stroke="#F04E6C" stroke-width="1.7"/>
<line x1="1179.4" y1="454.6" x2="1190.4" y2="454.6" stroke="#F04E6C" stroke-width="1.7"/>
<line x1="1184.6" y1="423.1" x2="1190.4" y2="423.1" stroke="#F04E6C" stroke-width="1.7"/>
<line x1="1179.4" y1="391.5" x2="1190.4" y2="391.5" stroke="#F04E6C" stroke-width="1.7"/>
<line x1="1184.6" y1="359.9" x2="1190.4" y2="359.9" stroke="#F04E6C" stroke-width="1.7"/>
<line x1="1179.4" y1="328.3" x2="1190.4" y2="328.3" stroke="#F04E6C" stroke-width="1.7"/>
<line x1="1184.6" y1="296.7" x2="1190.4" y2="296.7" stroke="#F04E6C" stroke-width="1.7"/>
<line x1="1179.4" y1="265.1" x2="1190.4" y2="265.1" stroke="#F04E6C" stroke-width="1.7"/>
<line x1="1184.6" y1="233.5" x2="1190.4" y2="233.5" stroke="#F04E6C" stroke-width="1.7"/>
<line x1="1179.4" y1="201.9" x2="1190.4" y2="201.9" stroke="#F04E6C" stroke-width="1.7"/>
<line x1="1184.6" y1="170.4" x2="1190.4" y2="170.4" stroke="#F04E6C" stroke-width="1.7"/>
<line x1="1179.4" y1="138.8" x2="1190.4" y2="138.8" stroke="#F04E6C" stroke-width="1.7"/>
<line x1="1184.6" y1="107.2" x2="1190.4" y2="107.2" stroke="#F04E6C" stroke-width="1.7"/>
<line x1="1179.4" y1="75.6" x2="1190.4" y2="75.6" stroke="#F04E6C" stroke-width="1.7"/>
<line x1="1184.6" y1="44.0" x2="1190.4" y2="44.0" stroke="#F04E6C" stroke-width="1.7"/>
<line x1="1856.8" y1="42.9" x2="1856.8" y2="582.1" stroke="#41C0D0" stroke-width="2.2"/>
<line x1="1856.8" y1="581.0" x2="1866.3" y2="581.0" stroke="#41C0D0" stroke-width="2"/>
<line x1="1856.8" y1="527.3" x2="1861.8" y2="527.3" stroke="#41C0D0" stroke-width="2"/>
<line x1="1856.8" y1="473.6" x2="1866.3" y2="473.6" stroke="#41C0D0" stroke-width="2"/>
<line x1="1856.8" y1="419.9" x2="1861.8" y2="419.9" stroke="#41C0D0" stroke-width="2"/>
<line x1="1856.8" y1="366.2" x2="1866.3" y2="366.2" stroke="#41C0D0" stroke-width="2"/>
<line x1="1856.8" y1="312.5" x2="1861.8" y2="312.5" stroke="#41C0D0" stroke-width="2"/>
<line x1="1856.8" y1="258.8" x2="1866.3" y2="258.8" stroke="#41C0D0" stroke-width="2"/>
<line x1="1856.8" y1="205.1" x2="1861.8" y2="205.1" stroke="#41C0D0" stroke-width="2"/>
<line x1="1856.8" y1="151.4" x2="1866.3" y2="151.4" stroke="#41C0D0" stroke-width="2"/>
<line x1="1856.8" y1="97.7" x2="1861.8" y2="97.7" stroke="#41C0D0" stroke-width="2"/>
<line x1="1856.8" y1="44.0" x2="1866.3" y2="44.0" stroke="#41C0D0" stroke-width="2"/>
<line x1="1930.0" y1="42.9" x2="1930.0" y2="582.1" stroke="#E2A930" stroke-width="2.2"/>
<line x1="1930.0" y1="581.0" x2="1939.5" y2="581.0" stroke="#E2A930" stroke-width="2"/>
<line x1="1930.0" y1="491.5" x2="1935.0" y2="491.5" stroke="#E2A930" stroke-width="2"/>
<line x1="1930.0" y1="402.0" x2="1939.5" y2="402.0" stroke="#E2A930" stroke-width="2"/>
<line x1="1930.0" y1="312.5" x2="1935.0" y2="312.5" stroke="#E2A930" stroke-width="2"/>
<line x1="1930.0" y1="223.0" x2="1939.5" y2="223.0" stroke="#E2A930" stroke-width="2"/>
<line x1="1930.0" y1="133.5" x2="1935.0" y2="133.5" stroke="#E2A930" stroke-width="2"/>
<line x1="1930.0" y1="44.0" x2="1939.5" y2="44.0" stroke="#E2A930" stroke-width="2"/>
<line x1="1191.4" y1="581.0" x2="1855.8" y2="581.0" stroke="#000" stroke-width="2.6"/>
<line x1="1256.8" y1="581.0" x2="1256.8" y2="591.5" stroke="#000" stroke-width="2.4"/>
<line x1="1390.2" y1="581.0" x2="1390.2" y2="591.5" stroke="#000" stroke-width="2.4"/>
<line x1="1523.6" y1="581.0" x2="1523.6" y2="591.5" stroke="#000" stroke-width="2.4"/>
<line x1="1657.0" y1="581.0" x2="1657.0" y2="591.5" stroke="#000" stroke-width="2.4"/>
<line x1="1790.4" y1="581.0" x2="1790.4" y2="591.5" stroke="#000" stroke-width="2.4"/>
<g font-family='"Liberation Sans", Arial, Helvetica, sans-serif' font-size="22.3" fill="#000" stroke="#000" stroke-width="0.4">
<text transform="translate(1256.8 616.6) scale(1.02 1.0)" text-anchor="middle" >Summit</text>
<text transform="translate(1390.2 616.6) scale(1.02 1.0)" text-anchor="middle" >Shoulder</text>
<text transform="translate(1523.6 616.6) scale(1.02 1.0)" text-anchor="middle" >Backslope</text>
<text transform="translate(1657.0 616.6) scale(1.02 1.0)" text-anchor="middle" >Footslope</text>
<text transform="translate(1790.4 616.6) scale(1.02 1.0)" text-anchor="middle" >Toeslope</text>
<text transform="translate(1172.3 589.2) scale(1.02 1.08)" text-anchor="end" >0</text>
<text transform="translate(1172.3 526.0) scale(1.02 1.08)" text-anchor="end" >10</text>
<text transform="translate(1172.3 462.8) scale(1.02 1.08)" text-anchor="end" >20</text>
<text transform="translate(1172.3 399.7) scale(1.02 1.08)" text-anchor="end" >30</text>
<text transform="translate(1172.3 336.5) scale(1.02 1.08)" text-anchor="end" >40</text>
<text transform="translate(1172.3 273.3) scale(1.02 1.08)" text-anchor="end" >50</text>
<text transform="translate(1172.3 210.1) scale(1.02 1.08)" text-anchor="end" >60</text>
<text transform="translate(1172.3 147.0) scale(1.02 1.08)" text-anchor="end" >70</text>
<text transform="translate(1172.3 83.8) scale(1.02 1.08)" text-anchor="end" >80</text>
<text transform="translate(1874.3 589.2) scale(1.02 1.08)" text-anchor="start" >0</text>
<text transform="translate(1874.3 481.8) scale(1.02 1.08)" text-anchor="start" >20</text>
<text transform="translate(1874.3 374.4) scale(1.02 1.08)" text-anchor="start" >40</text>
<text transform="translate(1874.3 267.0) scale(1.02 1.08)" text-anchor="start" >60</text>
<text transform="translate(1874.3 159.6) scale(1.02 1.08)" text-anchor="start" >80</text>
<text transform="translate(1874.3 52.2) scale(1.02 1.08)" text-anchor="start" >100</text>
<text transform="translate(1947.6 589.2) scale(1.02 1.08)" text-anchor="start" >0.0</text>
<text transform="translate(1947.6 410.2) scale(1.02 1.08)" text-anchor="start" >0.2</text>
<text transform="translate(1947.6 231.2) scale(1.02 1.08)" text-anchor="start" >0.4</text>
<text transform="translate(1947.6 52.2) scale(1.02 1.08)" text-anchor="start" >0.6</text>
<text transform="translate(1137.0 312.8) rotate(-90) scale(1.14 1.27)" text-anchor="middle" >CIA</text>
<text transform="translate(1916.6 312.9) rotate(-90) scale(1.11 1.22)" text-anchor="middle" >CIW</text>
<text transform="translate(1990.4 312.9) rotate(-90) scale(1.11 1.19)" text-anchor="middle" >Na/K</text>
<rect x="1348.2" y="24.0" width="48.6" height="23.6" fill="#FD6565" stroke="#222" stroke-width="1.3"/>
<text transform="translate(1409.0 43.8) scale(1.02 1.04)" text-anchor="start" >CIA</text>
<rect x="1453.4" y="24.0" width="48.6" height="23.6" fill="#34BBD3" stroke="#222" stroke-width="1.3"/>
<text transform="translate(1514.6 43.8) scale(1.02 1.04)" text-anchor="start" >CIW</text>
<rect x="1565.8" y="24.0" width="48.6" height="23.6" fill="#E7A826" stroke="#222" stroke-width="1.3"/>
<text transform="translate(1627.0 43.8) scale(1.02 1.04)" text-anchor="start" >Na/K</text>
</g>
</g>
<g>
<rect x="1211.4" y="727.2" width="59.3" height="461.7" fill="#FD6565" stroke="#1a1a1a" stroke-width="1.4"/>
<rect x="1270.7" y="725.5" width="59.3" height="463.4" fill="#34BBD3" stroke="#2a6f80" stroke-width="0.8"/>
<rect x="1330.0" y="768.8" width="59.3" height="420.1" fill="#E7A826" stroke="#7d6424" stroke-width="0.8"/>
<rect x="1434.0" y="717.8" width="59.3" height="471.1" fill="#FD6565" stroke="#1a1a1a" stroke-width="1.4"/>
<rect x="1493.3" y="716.4" width="59.3" height="472.5" fill="#34BBD3" stroke="#2a6f80" stroke-width="0.8"/>
<rect x="1552.6" y="820.0" width="59.3" height="368.9" fill="#E7A826" stroke="#7d6424" stroke-width="0.8"/>
<rect x="1656.6" y="729.2" width="59.3" height="459.7" fill="#FD6565" stroke="#1a1a1a" stroke-width="1.4"/>
<rect x="1715.9" y="727.5" width="59.3" height="461.4" fill="#34BBD3" stroke="#2a6f80" stroke-width="0.8"/>
<rect x="1775.2" y="760.7" width="59.3" height="428.2" fill="#E7A826" stroke="#7d6424" stroke-width="0.8"/>
<g stroke="#333" stroke-width="1" fill="none">
<path d="M1241.1 718.4V735.7M1236.1 718.4h10M1236.1 735.7h10"/>
<path d="M1300.4 715.5V735.7M1295.4 715.5h10M1295.4 735.7h10"/>
<path d="M1359.7 701.6V835.9M1354.7 701.6h10M1354.7 835.9h10"/>
<path d="M1463.7 712.4V723.5M1458.7 712.4h10M1458.7 723.5h10"/>
<path d="M1523.0 711.3V721.8M1518.0 711.3h10M1518.0 721.8h10"/>
<path d="M1582.2 787.8V851.8M1577.2 787.8h10M1577.2 851.8h10"/>
<path d="M1686.3 724.0V733.7M1681.3 724.0h10M1681.3 733.7h10"/>
<path d="M1745.6 721.8V732.9M1740.6 721.8h10M1740.6 732.9h10"/>
<path d="M1804.9 724.0V797.2M1799.9 724.0h10M1799.9 797.2h10"/>
</g>
<g font-family='"Liberation Sans", Arial, Helvetica, sans-serif' font-size="20" fill="#000" stroke="#000" stroke-width="0.3" text-anchor="middle">
<text transform="translate(1241.1 713.3) scale(1.0 1.04)" text-anchor="middle" >b</text>
<text transform="translate(1300.4 711.0) scale(1.0 1.04)" text-anchor="middle" >b</text>
<text transform="translate(1359.7 696.8) scale(1.0 1.04)" text-anchor="middle" >a</text>
<text transform="translate(1463.7 707.6) scale(1.0 1.04)" text-anchor="middle" >a</text>
<text transform="translate(1523.0 706.1) scale(1.0 1.04)" text-anchor="middle" >a</text>
<text transform="translate(1582.2 783.0) scale(1.0 1.04)" text-anchor="middle" >b</text>
<text transform="translate(1686.3 718.6) scale(1.0 1.04)" text-anchor="middle" >b</text>
<text transform="translate(1745.6 716.6) scale(1.0 1.04)" text-anchor="middle" >b</text>
<text transform="translate(1804.9 718.6) scale(1.0 1.04)" text-anchor="middle" >a</text>
</g>
<line x1="1189.8" y1="649.6" x2="1189.8" y2="1190.1" stroke="#EE6E80" stroke-width="2.1"/>
<line x1="1178.8" y1="1188.9" x2="1189.8" y2="1188.9" stroke="#F04E6C" stroke-width="1.7"/>
<line x1="1184.0" y1="1157.2" x2="1189.8" y2="1157.2" stroke="#F04E6C" stroke-width="1.7"/>
<line x1="1178.8" y1="1125.6" x2="1189.8" y2="1125.6" stroke="#F04E6C" stroke-width="1.7"/>
<line x1="1184.0" y1="1093.9" x2="1189.8" y2="1093.9" stroke="#F04E6C" stroke-width="1.7"/>
<line x1="1178.8" y1="1062.3" x2="1189.8" y2="1062.3" stroke="#F04E6C" stroke-width="1.7"/>
<line x1="1184.0" y1="1030.6" x2="1189.8" y2="1030.6" stroke="#F04E6C" stroke-width="1.7"/>
<line x1="1178.8" y1="999.0" x2="1189.8" y2="999.0" stroke="#F04E6C" stroke-width="1.7"/>
<line x1="1184.0" y1="967.3" x2="1189.8" y2="967.3" stroke="#F04E6C" stroke-width="1.7"/>
<line x1="1178.8" y1="935.7" x2="1189.8" y2="935.7" stroke="#F04E6C" stroke-width="1.7"/>
<line x1="1184.0" y1="904.0" x2="1189.8" y2="904.0" stroke="#F04E6C" stroke-width="1.7"/>
<line x1="1178.8" y1="872.4" x2="1189.8" y2="872.4" stroke="#F04E6C" stroke-width="1.7"/>
<line x1="1184.0" y1="840.7" x2="1189.8" y2="840.7" stroke="#F04E6C" stroke-width="1.7"/>
<line x1="1178.8" y1="809.1" x2="1189.8" y2="809.1" stroke="#F04E6C" stroke-width="1.7"/>
<line x1="1184.0" y1="777.4" x2="1189.8" y2="777.4" stroke="#F04E6C" stroke-width="1.7"/>
<line x1="1178.8" y1="745.8" x2="1189.8" y2="745.8" stroke="#F04E6C" stroke-width="1.7"/>
<line x1="1184.0" y1="714.1" x2="1189.8" y2="714.1" stroke="#F04E6C" stroke-width="1.7"/>
<line x1="1178.8" y1="682.5" x2="1189.8" y2="682.5" stroke="#F04E6C" stroke-width="1.7"/>
<line x1="1184.0" y1="650.8" x2="1189.8" y2="650.8" stroke="#F04E6C" stroke-width="1.7"/>
<line x1="1856.8" y1="649.7" x2="1856.8" y2="1190.0" stroke="#41C0D0" stroke-width="2.2"/>
<line x1="1856.8" y1="1188.9" x2="1866.3" y2="1188.9" stroke="#41C0D0" stroke-width="2"/>
<line x1="1856.8" y1="1135.1" x2="1861.8" y2="1135.1" stroke="#41C0D0" stroke-width="2"/>
<line x1="1856.8" y1="1081.3" x2="1866.3" y2="1081.3" stroke="#41C0D0" stroke-width="2"/>
<line x1="1856.8" y1="1027.5" x2="1861.8" y2="1027.5" stroke="#41C0D0" stroke-width="2"/>
<line x1="1856.8" y1="973.7" x2="1866.3" y2="973.7" stroke="#41C0D0" stroke-width="2"/>
<line x1="1856.8" y1="919.9" x2="1861.8" y2="919.9" stroke="#41C0D0" stroke-width="2"/>
<line x1="1856.8" y1="866.0" x2="1866.3" y2="866.0" stroke="#41C0D0" stroke-width="2"/>
<line x1="1856.8" y1="812.2" x2="1861.8" y2="812.2" stroke="#41C0D0" stroke-width="2"/>
<line x1="1856.8" y1="758.4" x2="1866.3" y2="758.4" stroke="#41C0D0" stroke-width="2"/>
<line x1="1856.8" y1="704.6" x2="1861.8" y2="704.6" stroke="#41C0D0" stroke-width="2"/>
<line x1="1856.8" y1="650.8" x2="1866.3" y2="650.8" stroke="#41C0D0" stroke-width="2"/>
<line x1="1930.0" y1="649.7" x2="1930.0" y2="1190.0" stroke="#E2A930" stroke-width="2.2"/>
<line x1="1930.0" y1="1188.9" x2="1939.5" y2="1188.9" stroke="#E2A930" stroke-width="2"/>
<line x1="1930.0" y1="1135.1" x2="1935.0" y2="1135.1" stroke="#E2A930" stroke-width="2"/>
<line x1="1930.0" y1="1081.3" x2="1939.5" y2="1081.3" stroke="#E2A930" stroke-width="2"/>
<line x1="1930.0" y1="1027.5" x2="1935.0" y2="1027.5" stroke="#E2A930" stroke-width="2"/>
<line x1="1930.0" y1="973.7" x2="1939.5" y2="973.7" stroke="#E2A930" stroke-width="2"/>
<line x1="1930.0" y1="919.9" x2="1935.0" y2="919.9" stroke="#E2A930" stroke-width="2"/>
<line x1="1930.0" y1="866.0" x2="1939.5" y2="866.0" stroke="#E2A930" stroke-width="2"/>
<line x1="1930.0" y1="812.2" x2="1935.0" y2="812.2" stroke="#E2A930" stroke-width="2"/>
<line x1="1930.0" y1="758.4" x2="1939.5" y2="758.4" stroke="#E2A930" stroke-width="2"/>
<line x1="1930.0" y1="704.6" x2="1935.0" y2="704.6" stroke="#E2A930" stroke-width="2"/>
<line x1="1930.0" y1="650.8" x2="1939.5" y2="650.8" stroke="#E2A930" stroke-width="2"/>
<line x1="1190.8" y1="1188.9" x2="1855.8" y2="1188.9" stroke="#000" stroke-width="2.6"/>
<line x1="1300.4" y1="1188.9" x2="1300.4" y2="1199.4" stroke="#000" stroke-width="2.4"/>
<line x1="1523.0" y1="1188.9" x2="1523.0" y2="1199.4" stroke="#000" stroke-width="2.4"/>
<line x1="1745.6" y1="1188.9" x2="1745.6" y2="1199.4" stroke="#000" stroke-width="2.4"/>
<g font-family='"Liberation Sans", Arial, Helvetica, sans-serif' font-size="22.3" fill="#000" stroke="#000" stroke-width="0.4">
<text transform="translate(1300.4 1224.5) scale(1.02 1.0)" text-anchor="middle" >A</text>
<text transform="translate(1523.0 1224.5) scale(1.02 1.0)" text-anchor="middle" >B</text>
<text transform="translate(1745.6 1224.5) scale(1.02 1.0)" text-anchor="middle" >C</text>
<text transform="translate(1172.3 1197.1) scale(1.02 1.08)" text-anchor="end" >0</text>
<text transform="translate(1172.3 1133.8) scale(1.02 1.08)" text-anchor="end" >10</text>
<text transform="translate(1172.3 1070.5) scale(1.02 1.08)" text-anchor="end" >20</text>
<text transform="translate(1172.3 1007.2) scale(1.02 1.08)" text-anchor="end" >30</text>
<text transform="translate(1172.3 943.9) scale(1.02 1.08)" text-anchor="end" >40</text>
<text transform="translate(1172.3 880.6) scale(1.02 1.08)" text-anchor="end" >50</text>
<text transform="translate(1172.3 817.3) scale(1.02 1.08)" text-anchor="end" >60</text>
<text transform="translate(1172.3 754.0) scale(1.02 1.08)" text-anchor="end" >70</text>
<text transform="translate(1172.3 690.7) scale(1.02 1.08)" text-anchor="end" >80</text>
<text transform="translate(1874.3 1197.1) scale(1.02 1.08)" text-anchor="start" >0</text>
<text transform="translate(1874.3 1089.5) scale(1.02 1.08)" text-anchor="start" >20</text>
<text transform="translate(1874.3 981.9) scale(1.02 1.08)" text-anchor="start" >40</text>
<text transform="translate(1874.3 874.2) scale(1.02 1.08)" text-anchor="start" >60</text>
<text transform="translate(1874.3 766.6) scale(1.02 1.08)" text-anchor="start" >80</text>
<text transform="translate(1874.3 659.0) scale(1.02 1.08)" text-anchor="start" >100</text>
<text transform="translate(1948.4 1197.1) scale(1.02 1.08)" text-anchor="start" >0.0</text>
<text transform="translate(1948.4 1089.5) scale(1.02 1.08)" text-anchor="start" >0.1</text>
<text transform="translate(1948.4 981.9) scale(1.02 1.08)" text-anchor="start" >0.2</text>
<text transform="translate(1948.4 874.2) scale(1.02 1.08)" text-anchor="start" >0.3</text>
<text transform="translate(1948.4 766.6) scale(1.02 1.08)" text-anchor="start" >0.4</text>
<text transform="translate(1948.4 659.0) scale(1.02 1.08)" text-anchor="start" >0.5</text>
<text transform="translate(1137.0 920.1) rotate(-90) scale(1.14 1.27)" text-anchor="middle" >CIA</text>
<text transform="translate(1916.6 920.2) rotate(-90) scale(1.11 1.22)" text-anchor="middle" >CIW</text>
<text transform="translate(1998.6 920.2) rotate(-90) scale(1.11 1.19)" text-anchor="middle" >Na/K</text>
<rect x="1378.8" y="641.0" width="40.0" height="23.6" fill="#FD6565" stroke="#222" stroke-width="1.3"/>
<text transform="translate(1431.0 660.8) scale(1.02 1.04)" text-anchor="start" >CIA</text>
<rect x="1474.8" y="641.0" width="40.0" height="23.6" fill="#34BBD3" stroke="#222" stroke-width="1.3"/>
<text transform="translate(1526.5 660.8) scale(1.02 1.04)" text-anchor="start" >CIW</text>
<rect x="1576.3" y="641.0" width="40.0" height="23.6" fill="#E7A826" stroke="#222" stroke-width="1.3"/>
<text transform="translate(1628.8 660.8) scale(1.02 1.04)" text-anchor="start" >Na/K</text>
</g>
</g>
</svg>
</body></html>
